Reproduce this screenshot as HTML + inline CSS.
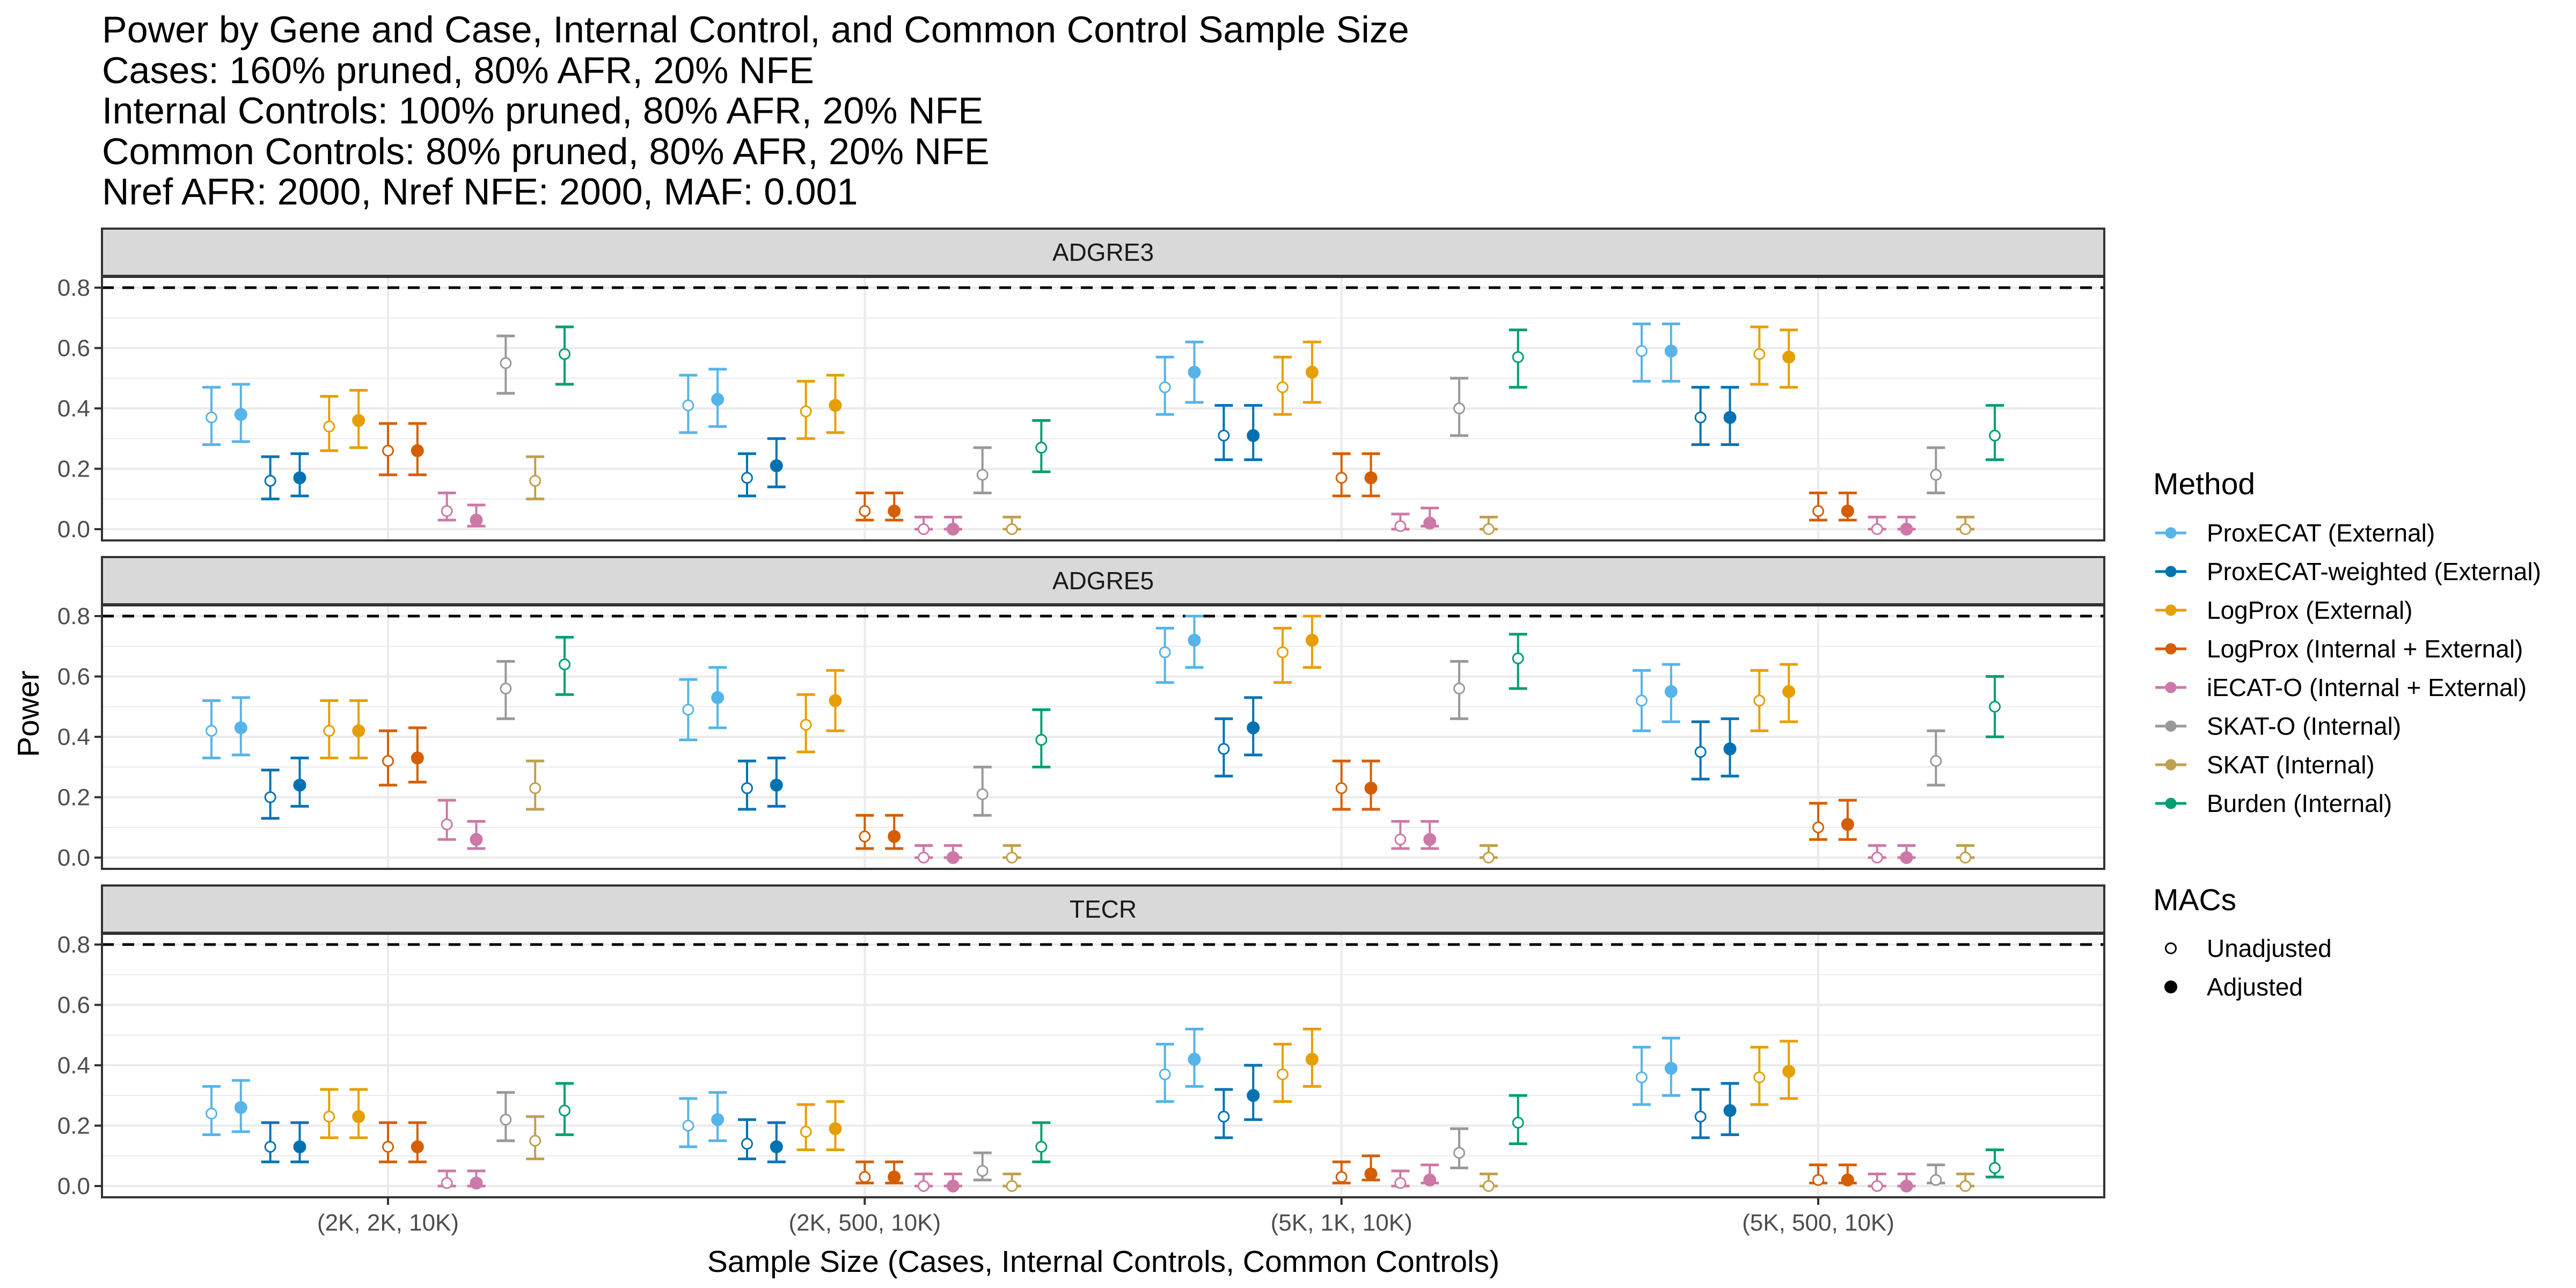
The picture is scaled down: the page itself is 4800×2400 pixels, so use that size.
<!DOCTYPE html>
<html><head><meta charset="utf-8"><style>
html,body{margin:0;padding:0;background:#fff;}
svg{display:block;font-family:"Liberation Sans",Arial,sans-serif;}
</style></head><body>
<svg id="chart" width="4800" height="2400" viewBox="0 0 4800 2400" xmlns="http://www.w3.org/2000/svg">
<rect x="0" y="0" width="4800" height="2400" fill="#fff"/>
<g font-size="70" fill="#000">
<text x="190" y="79">Power by Gene and Case, Internal Control, and Common Control Sample Size</text>
<text x="190" y="155">Cases: 160% pruned, 80% AFR, 20% NFE</text>
<text x="190" y="230">Internal Controls: 100% pruned, 80% AFR, 20% NFE</text>
<text x="190" y="306">Common Controls: 80% pruned, 80% AFR, 20% NFE</text>
<text x="190" y="381">Nref AFR: 2000, Nref NFE: 2000, MAF: 0.001</text>
</g>
<g id="panels"></g>
<text x="0" y="0" transform="translate(72,1330) rotate(-90)" text-anchor="middle" font-size="57" fill="#000">Power</text>
<text x="2056" y="2370" text-anchor="middle" font-size="57" fill="#000">Sample Size (Cases, Internal Controls, Common Controls)</text>
<g id="legend"></g>
</svg>
<script>
const NS = "http://www.w3.org/2000/svg";
const categories = ["(2K, 2K, 10K)", "(2K, 500, 10K)", "(5K, 1K, 10K)", "(5K, 500, 10K)"];
const genes = ["ADGRE3", "ADGRE5", "TECR"];
const methods = ["ProxECAT (External)", "ProxECAT-weighted (External)", "LogProx (External)", "LogProx (Internal + External)", "iECAT-O (Internal + External)", "SKAT-O (Internal)", "SKAT (Internal)", "Burden (Internal)"];
const methodColors = ["#56B4E9", "#0072B2", "#E69F00", "#D55E00", "#CC79A7", "#999999", "#C0A04F", "#009E73"];
// series: method index and MAC (0 = Unadjusted, 1 = Adjusted)
const seriesMethod = [0,0,1,1,2,2,3,3,4,4,5,6,7];
const seriesMac    = [0,1,0,1,0,1,0,1,0,1,0,0,0];
const yTicks = [0.0, 0.2, 0.4, 0.6, 0.8];
const yTickLabels = ["0.0", "0.2", "0.4", "0.6", "0.8"];
const targetPower = 0.8;

// estimates per gene: 13 series x 4 categories
const adgre3Est = [[.37,.41,.47,.59],[.38,.43,.52,.59],[.16,.17,.31,.37],[.17,.21,.31,.37],[.34,.39,.47,.58],[.36,.41,.52,.57],[.26,.06,.17,.06],[.26,.06,.17,.06],[.06,.00,.01,.00],[.03,.00,.02,.00],[.55,.18,.40,.18],[.16,.00,.00,.00],[.58,.27,.57,.31]];
const adgre3Lo  = [[.28,.32,.38,.49],[.29,.34,.42,.49],[.10,.11,.23,.28],[.11,.14,.23,.28],[.26,.30,.38,.48],[.27,.32,.42,.47],[.18,.03,.11,.03],[.18,.03,.11,.03],[.03,.00,.00,.00],[.01,.00,.01,.00],[.45,.12,.31,.12],[.10,.00,.00,.00],[.48,.19,.47,.23]];
const adgre3Hi  = [[.47,.51,.57,.68],[.48,.53,.62,.68],[.24,.25,.41,.47],[.25,.30,.41,.47],[.44,.49,.57,.67],[.46,.51,.62,.66],[.35,.12,.25,.12],[.35,.12,.25,.12],[.12,.04,.05,.04],[.08,.04,.07,.04],[.64,.27,.50,.27],[.24,.04,.04,.04],[.67,.36,.66,.41]];

const adgre5Est = [[.42,.49,.68,.52],[.43,.53,.72,.55],[.20,.23,.36,.35],[.24,.24,.43,.36],[.42,.44,.68,.52],[.42,.52,.72,.55],[.32,.07,.23,.10],[.33,.07,.23,.11],[.11,.00,.06,.00],[.06,.00,.06,.00],[.56,.21,.56,.32],[.23,.00,.00,.00],[.64,.39,.66,.50]];
const adgre5Lo  = [[.33,.39,.58,.42],[.34,.43,.63,.45],[.13,.16,.27,.26],[.17,.17,.34,.27],[.33,.35,.58,.42],[.33,.42,.63,.45],[.24,.03,.16,.06],[.25,.03,.16,.06],[.06,.00,.03,.00],[.03,.00,.03,.00],[.46,.14,.46,.24],[.16,.00,.00,.00],[.54,.30,.56,.40]];
const adgre5Hi  = [[.52,.59,.76,.62],[.53,.63,.80,.64],[.29,.32,.46,.45],[.33,.33,.53,.46],[.52,.54,.76,.62],[.52,.62,.80,.64],[.42,.14,.32,.18],[.43,.14,.32,.19],[.19,.04,.12,.04],[.12,.04,.12,.04],[.65,.30,.65,.42],[.32,.04,.04,.04],[.73,.49,.74,.60]];

const tecrEst = [[.24,.20,.37,.36],[.26,.22,.42,.39],[.13,.14,.23,.23],[.13,.13,.30,.25],[.23,.18,.37,.36],[.23,.19,.42,.38],[.13,.03,.03,.02],[.13,.03,.04,.02],[.01,.00,.01,.00],[.01,.00,.02,.00],[.22,.05,.11,.02],[.15,.00,.00,.00],[.25,.13,.21,.06]];
const tecrLo  = [[.17,.13,.28,.27],[.18,.15,.33,.30],[.08,.09,.16,.16],[.08,.08,.22,.17],[.16,.12,.28,.27],[.16,.12,.33,.29],[.08,.01,.01,.01],[.08,.01,.02,.01],[.00,.00,.00,.00],[.00,.00,.01,.00],[.15,.02,.06,.01],[.09,.00,.00,.00],[.17,.08,.14,.03]];
const tecrHi  = [[.33,.29,.47,.46],[.35,.31,.52,.49],[.21,.22,.32,.32],[.21,.21,.40,.34],[.32,.27,.47,.46],[.32,.28,.52,.48],[.21,.08,.08,.07],[.21,.08,.10,.07],[.05,.04,.05,.04],[.05,.04,.07,.04],[.31,.11,.19,.07],[.23,.04,.04,.04],[.34,.21,.30,.12]];

const geneEst = [adgre3Est, adgre5Est, tecrEst];
const geneLo = [adgre3Lo, adgre5Lo, tecrLo];
const geneHi = [adgre3Hi, adgre5Hi, tecrHi];

// layout
const PL = 190, PR = 3921, STRIP_H = 88, PANEL_H = 491, PANEL_STEP = 612, FIRST_STRIP = 426;
const nCat = categories.length;
const catStep = (PR - PL) / (nCat - 1 + 1.2);
function xCat(i){ return PL + catStep * (0.6 + i); }
const dodge = catStep / 16.2;
function xSeries(i, s){ return xCat(i) + (s - 6) * dodge; }
function panelTop(g){ return FIRST_STRIP + g * PANEL_STEP + STRIP_H + 2; }
function yVal(g, v){ return panelTop(g) + 470 - v * 562.5; }

function mk(tag, attrs, parent){
  const e = document.createElementNS(NS, tag);
  for (const k in attrs) e.setAttribute(k, attrs[k]);
  parent.appendChild(e);
  return e;
}
const panels = document.getElementById("panels");
genes.forEach((gene, g) => {
  const grp = mk("g", {}, panels);
  
  
  const st = FIRST_STRIP + g * PANEL_STEP;
  const strip = mk("rect", {x: PL, y: st, width: PR - PL, height: STRIP_H, fill: "#d9d9d9", stroke: "#333", "stroke-width": 4}, grp);
  
  
  const stxt = mk("text", {x: (PL + PR) / 2, y: st + STRIP_H / 2 + 16, "text-anchor": "middle", "font-size": 46, fill: "#1a1a1a"}, grp);
  stxt.textContent = gene;
  
  
  const pt = panelTop(g);
  for (let v = 0.1; v < 0.85; v += 0.2) {
    const y = yVal(g, v);
    const l = mk("line", {x1: PL, x2: PR, y1: y, y2: y, stroke: "#ebebeb", "stroke-width": 2}, grp);
    
    
  }
  yTicks.forEach((v, k) => {
    const y = yVal(g, v);
    const l = mk("line", {x1: PL, x2: PR, y1: y, y2: y, stroke: "#ebebeb", "stroke-width": 4}, grp);
    
    
    const tk = mk("line", {x1: PL - 14, x2: PL, y1: y, y2: y, stroke: "#333", "stroke-width": 4}, grp);
    
    
    const t = mk("text", {x: PL - 22, y: y + 15, "text-anchor": "end", "font-size": 44, fill: "#4d4d4d"}, grp);
    t.textContent = yTickLabels[k];
    
    
  });
  categories.forEach((c, i) => {
    const l = mk("line", {x1: xCat(i), x2: xCat(i), y1: pt, y2: pt + PANEL_H, stroke: "#ebebeb", "stroke-width": 4}, grp);
    
    
  });
  const ty = yVal(g, targetPower);
  const dl = mk("line", {x1: PL, x2: PR, y1: ty, y2: ty, stroke: "#000", "stroke-width": 5, "stroke-dasharray": "22 16"}, grp);
  
  
  const est = geneEst[g], lo = geneLo[g], hi = geneHi[g];
  for (let s = 0; s < seriesMethod.length; s++) {
    const col = methodColors[seriesMethod[s]];
    for (let i = 0; i < nCat; i++) {
      const x = xSeries(i, s);
      const eg = mk("g", {stroke: col, "stroke-width": 4, fill: "none"}, grp);
      
      
      const y1 = yVal(g, lo[s][i]), y2 = yVal(g, hi[s][i]);
      mk("line", {x1: x, x2: x, y1: y1, y2: y2}, eg);
      mk("line", {x1: x - 17, x2: x + 17, y1: y1, y2: y1, "stroke-width": 5}, eg);
      mk("line", {x1: x - 17, x2: x + 17, y1: y2, y2: y2, "stroke-width": 5}, eg);
      const p = mk("circle", {cx: x, cy: yVal(g, est[s][i]), r: seriesMac[s] ? 10.5 : 9.5, fill: seriesMac[s] ? col : "#fff", stroke: col, "stroke-width": 3}, grp);
      
      
    }
  }
  const border = mk("rect", {x: PL, y: pt, width: PR - PL, height: PANEL_H, fill: "none", stroke: "#333", "stroke-width": 4}, grp);
  
  
  if (g === genes.length - 1) {
    categories.forEach((c, i) => {
      const tk = mk("line", {x1: xCat(i), x2: xCat(i), y1: pt + PANEL_H, y2: pt + PANEL_H + 14, stroke: "#333", "stroke-width": 4}, grp);
      
      
      const t = mk("text", {x: xCat(i), y: pt + PANEL_H + 62, "text-anchor": "middle", "font-size": 44, fill: "#4d4d4d"}, grp);
      t.textContent = c;
      
      
    });
  }
});

// legend
const leg = document.getElementById("legend");
const mt = mk("text", {x: 4012, y: 921, "font-size": 57, fill: "#000"}, leg);
mt.textContent = "Method";


methods.forEach((m, k) => {
  const y = 993 + 72 * k;
  const eg = mk("g", {}, leg);
  
  
  mk("line", {x1: 4016, x2: 4074, y1: y, y2: y, stroke: methodColors[k], "stroke-width": 5}, eg);
  mk("circle", {cx: 4045, cy: y, r: 10.5, fill: methodColors[k]}, eg);
  const t = mk("text", {x: 4112, y: y + 16, "font-size": 46, fill: "#000"}, eg);
  t.textContent = m;
});
const mct = mk("text", {x: 4012, y: 1696, "font-size": 57, fill: "#000"}, leg);
mct.textContent = "MACs";


["Unadjusted", "Adjusted"].forEach((m, k) => {
  const y = 1767 + 72 * k;
  const eg = mk("g", {}, leg);
  
  
  mk("circle", {cx: 4045, cy: y, r: k ? 10.5 : 9.5, fill: k ? "#000" : "#fff", stroke: "#000", "stroke-width": 3}, eg);
  const t = mk("text", {x: 4112, y: y + 16, "font-size": 46, fill: "#000"}, eg);
  t.textContent = m;
});
</script>
</body></html>
